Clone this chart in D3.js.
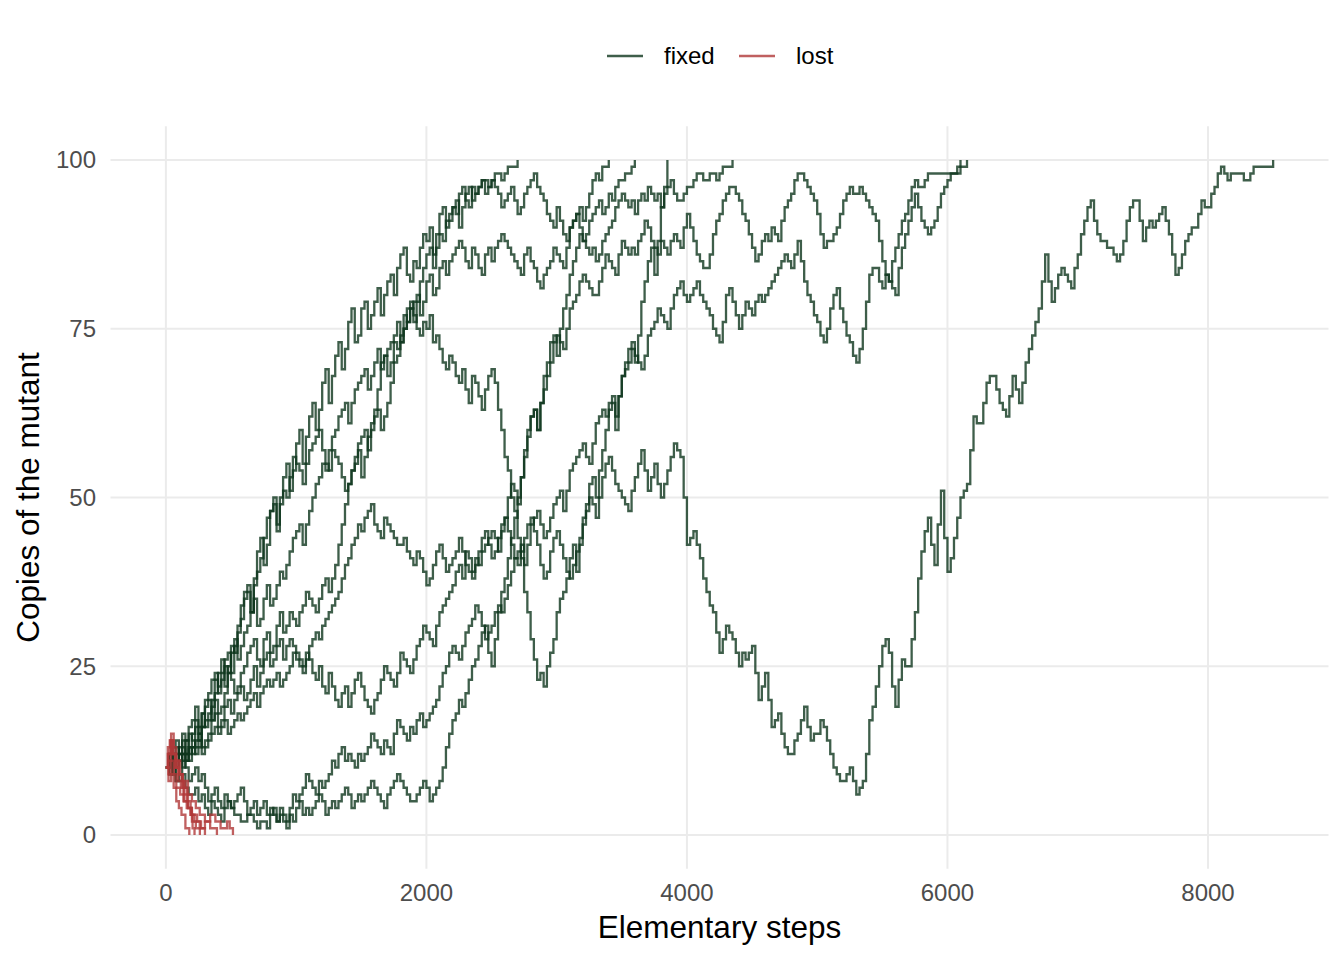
<!DOCTYPE html>
<html><head><meta charset="utf-8">
<script src="https://cdn.jsdelivr.net/npm/d3@7"></script>
<style>body{margin:0;background:#fff} svg{display:block;font-family:"Liberation Sans",Arial,Helvetica,sans-serif}</style>
</head><body><svg id="chart" width="1344" height="960"></svg>
<script>
// ---- data (copies of the mutant, read every 25 elementary steps) ----
const sampleEvery = 25;
const fixed1 = [10,9,13,14,12,10,11,13,15,17,14,16,19,20,17,21,24,26,22,25,28,27,31,34,36,37,33,38,42,44,40,43,48,50,45,49,53,55,51,54,58,60,55,59,62,64,60,63,67,69,64,68,71,73,69,72,76,78,73,74,78,79,75,77,79,81,77,80,82,83,80,84,86,87,83,82,85,84,87,89,88,90,86,89,92,93,90,91,93,92,95,96,94,93,96,95,96,97,97,96,97,98,98,97,98,99,99,99,100];
const fixed2 = [10,12,11,8,9,11,12,15,14,12,13,16,17,18,20,23,22,24,26,27,24,28,30,32,35,36,33,37,39,41,44,47,48,49,46,50,51,50,53,56,55,54,52,55,57,58,59,60,57,55,54,57,56,55,53,51,52,54,56,58,59,60,57,60,62,63,60,62,64,67,70,71,73,75,78,79,76,79,82,84,86,87,84,87,89,88,91,92,93,94,90,93,95,96,94,95,96,97,95,96,97,96,95,93,94,95,96,94,92,93,95,96,97,98,96,95,94,92,91,90,93,91,89,88,90,91,92,93,91,93,95,97,98,97,99,99,100];
const fixed3 = [10,11,9,10,12,15,14,12,13,14,15,18,16,17,19,20,18,19,21,24,23,21,22,24,25,27,28,29,26,25,29,30,27,28,31,33,30,31,33,32,31,33,34,36,35,34,33,35,37,38,36,38,40,43,46,49,52,54,55,57,53,56,59,61,63,66,70,71,68,70,73,72,74,77,76,78,79,80,77,79,82,83,80,81,84,85,83,85,86,87,88,87,85,84,87,86,84,83,86,87,85,87,88,89,88,87,86,85,84,83,86,87,85,84,82,81,83,84,85,87,86,85,84,87,90,91,92,90,88,89,91,92,93,94,92,93,95,94,96,97,97,98,98,99,100];
const fixed4 = [10,9,12,13,11,12,14,16,17,19,16,18,20,21,23,24,21,23,25,24,27,29,26,28,30,31,33,35,31,32,35,37,34,35,37,39,38,40,42,44,45,46,43,46,48,50,52,53,55,54,57,59,60,62,63,64,61,64,66,67,68,69,66,68,70,72,69,71,72,73,74,76,73,75,76,78,77,75,74,76,75,77,73,74,72,70,69,71,70,68,67,69,66,64,68,67,65,63,66,68,69,67,63,60,56,54,50,48,44,41,36,33,29,26,23,24,22,25,27,29,33,35,36,38,41,43,39,43,47,49,52,53,50,54,57,60,63,64,60,65,68,70,72,73,70,74,79,82,85,87,83,88,93,96,100];
const fixed5 = [10,12,11,12,13,14,12,11,13,16,15,13,14,15,17,18,16,17,19,20,18,20,21,22,20,21,23,25,22,24,26,27,25,26,28,29,26,28,29,28,27,26,25,27,26,24,23,25,22,21,24,22,20,19,21,22,19,21,23,24,22,20,19,18,20,21,23,25,24,23,22,24,27,26,25,24,26,28,29,31,30,29,28,31,33,34,35,36,37,39,40,38,42,41,39,41,40,42,43,44,45,44,42,45,47,50,52,51,49,53,57,60,62,63,60,64,68,70,73,74,71,75,78,80,83,85,87,89,88,87,86,87,85,86,88,89,90,91,93,94,95,94,93,94,92,94,95,94,96,95,94,95,93,95,96,97,95,94,94,95,96,96,97,98,98,97,97,98,98,97,98,99,99,99,100];
const fixed6 = [10,11,12,10,11,12,10,8,9,10,8,9,7,5,6,7,5,4,6,5, 4,5,6,7,5,3,4,5,3,4,5,3,4,3,2,4,3,2,4,6, 5,6,7,9,8,7,6,8,7,8,9,11,10,12,13,11,12,11,10,12, 11,12,13,15,14,13,12,14,13,12,15,17,16,15,14,16,15,17,18,16, 17,18,19,20,22,24,25,27,28,27,26,28,30,31,32,34,33,31,29,30, 31,33,34,33,35,37,39,41,42,43,40,43,46,47,48,46,44,45,47,49, 50,51,48,51,54,55,56,57,58,56,55,58,61,62,63,62,64,65,62,65, 68,69,70,72,71,70,69,71,74,75,76,78,77,76,75,78,80,81,82,80, 79,80,81,82,80,79,78,77,75,74,73,76,80,81,79,77,75,77,79,78, 77,79,80,79,80,81,82,83,84,85,86,85,84,86,88,85,82,80,79,77, 76,74,73,75,78,80,81,78,76,74,73,71,70,72,75,79,83,84,84,82, 81,83,82,81,80,84,87,89,91,93,95,93,91,90,89,90,91,93,95,96, 97,98,98,99,100];
const fixed7 = [10,11,9,8,8,9,7,6,6,7,5,6,4,3,5,4,3,2,4,5, 4,3,3,2,2,3,3,2,1,2,2,1,3,4,2,3,2,1,3,2, 4,5,3,4,3,4,5,6,5,3,4,5,4,5,6,7,6,4,5,6, 5,6,7,8,7,6,5,4,6,7,8,9,8,7,6,5,5,6,7,8, 7,5,6,7,8,10,13,15,17,18,20,19,21,23,25,26,28,30,31,27, 25,29,33,36,38,41,44,47,50,53,56,59,62,63,60,64,66,68,70,73, 74,73,72,75,78,79,80,82,83,82,81,80,80,82,84,86,85,84,83,86, 88,87,86,87,86,88,89,91,90,88,87,86,88,87,86,88,89,88,87,90, 92,90,88,86,85,84,84,86,89,91,92,94,95,96,96,95,94,92,91,89, 87,85,86,88,89,88,90,89,88,91,93,94,95,97,98,98,97,96,95,94, 92,89,87,88,88,89,90,92,94,95,96,95,95,96,95,94,93,92,91,88, 85,83,82,85,87,89,91,92,94,96,97,96,96,97,98,98,98,98,98,98, 98,98,98,98,99,99,100];
const fixed8 = [10,12,11,10,12,13,11,13,12,13,14,12,13,14,15,16,15,16,17,15, 16,17,18,17,18,19,20,21,19,21,22,23,22,23,24,22,23,24,25,27, 26,25,24,26,28,29,30,29,31,32,33,34,35,36,38,40,41,43,44,46, 45,47,48,49,46,45,44,47,46,45,44,43,43,44,42,41,40,42,41,39, 37,38,40,42,43,41,39,40,41,42,44,42,40,39,38,40,42,44,45,43, 41,42,44,46,47,45,43,41,40,42,44,46,47,45,43,40,38,39,42,44, 45,43,41,39,38,40,42,44,46,48,50,49,47,50,53,55,56,54,52,51, 50,49,48,51,53,55,57,54,51,53,55,52,50,52,54,56,58,57,56,50, 43,44,45,43,41,38,36,34,33,30,27,29,31,30,29,27,25,27,26,27, 28,24,20,22,24,20,16,17,18,15,13,12,12,14,15,17,19,16,14,15, 15,17,16,14,12,10,9,8,8,9,10,8,6,7,8,12,17,19,22,25, 28,29,27,22,19,23,26,25,25,29,33,38,42,45,47,43,40,46,51,44, 39,41,44,47,50,51,52,57,62,61,61,64,67,68,68,66,64,63,62,65, 68,66,64,67,70,72,74,76,78,82,86,82,79,81,83,84,83,82,81,84, 86,89,91,93,94,91,89,88,88,87,87,86,85,86,88,91,93,94,94,91, 88,90,91,90,91,92,93,91,89,86,83,84,86,88,89,90,90,92,94,93, 93,95,96,98,99,98,97,98,98,98,98,97,97,98,99,99,99,99,99,99, 100];

// lost trajectories: [elementary step, copies]
const lost1 = [[0,10],[20,12],[40,15],[60,13],[80,11],[100,9],[120,8],[140,6],[170,4],[200,2],[230,1],[261,0]];
const lost2 = [[0,10],[15,13],[35,14],[55,12],[75,10],[95,8],[115,7],[135,5],[160,4],[190,3],[220,2],[260,1],[300,2],[340,1],[392,0]];
const lost3 = [[0,10],[15,12],[30,14],[50,12],[70,10],[90,11],[110,9],[130,7],[150,8],[170,6],[200,5],[230,4],[260,3],[300,2],[340,3],[380,2],[420,1],[470,2],[490,1],[515,0]];
const lost4 = [[0,10],[20,8],[40,9],[60,7],[80,5],[100,4],[120,3],[150,1],[180,0]];
const lost5 = [[0,10],[20,11],[40,14],[60,12],[80,10],[100,9],[130,7],[160,5],[190,3],[205,1],[220,0]];
const lost6 = [[0,10],[20,9],[40,11],[60,9],[80,7],[110,6],[140,5],[170,4],[200,3],[240,2],[270,1],[300,0]];

const xTicks = [0, 2000, 4000, 6000, 8000];
const yTicks = [0, 25, 50, 75, 100];
const legendLabels = ["fixed", "lost"];
const xTitle = "Elementary steps";
const yTitle = "Copies of the mutant";

// ---- build ----
const fixedSeries = [fixed1, fixed2, fixed3, fixed4, fixed5, fixed6, fixed7, fixed8]
  .map(vals => vals.map((v, i) => [i * sampleEvery, v]));
const lostSeries = [lost1, lost2, lost3, lost4, lost5, lost6];

const colFixed = "rgb(14,54,29)", colLost = "rgb(176,56,56)", lineAlpha = 0.8;

const all = fixedSeries.concat(lostSeries).flat();
const xMax = d3.max(all, d => d[0]);
const x = d3.scaleLinear().domain([-0.05 * xMax, 1.05 * xMax]).range([110.5, 1328.5]);
const y = d3.scaleLinear().domain([-5, 105]).range([868.75, 126.25]);

const svg = d3.select("#chart");
svg.append("rect").attr("width", 1344).attr("height", 960).attr("fill", "#fff");

const grid = svg.append("g").attr("stroke", "#ebebeb").attr("stroke-width", 2);
grid.selectAll("line.h").data(yTicks).join("line")
  .attr("class", "h")
  .attr("x1", x.range()[0]).attr("x2", x.range()[1])
  .attr("y1", d => y(d)).attr("y2", d => y(d));
grid.selectAll("line.v").data(xTicks).join("line")
  .attr("class", "v")
  .attr("y1", y.range()[0]).attr("y2", y.range()[1])
  .attr("x1", d => x(d)).attr("x2", d => x(d));

const stepLine = d3.line().x(d => x(d[0])).y(d => y(d[1])).curve(d3.curveStepAfter);

svg.append("g").selectAll("path").data(fixedSeries).join("path")
  .attr("d", stepLine).attr("fill", "none")
  .attr("stroke", colFixed).attr("stroke-opacity", lineAlpha)
  .attr("stroke-width", 2.3);

svg.append("g").selectAll("path").data(lostSeries).join("path")
  .attr("d", stepLine).attr("fill", "none")
  .attr("stroke", colLost).attr("stroke-opacity", lineAlpha)
  .attr("stroke-width", 2.3);

// axes labels
svg.append("g").selectAll("text").data(yTicks).join("text")
  .attr("x", 96).attr("y", d => y(d)).attr("dy", "0.35em")
  .attr("text-anchor", "end").attr("font-size", 24).attr("fill", "#4d4d4d")
  .text(d => d);
svg.append("g").selectAll("text").data(xTicks).join("text")
  .attr("x", d => x(d)).attr("y", 901)
  .attr("text-anchor", "middle").attr("font-size", 24).attr("fill", "#4d4d4d")
  .text(d => d);

svg.append("text").attr("x", (x.range()[0] + x.range()[1]) / 2).attr("y", 938)
  .attr("text-anchor", "middle").attr("font-size", 31.5).attr("fill", "#000").text(xTitle);
svg.append("text")
  .attr("transform", `translate(39,${(y.range()[0] + y.range()[1]) / 2}) rotate(-90)`)
  .attr("text-anchor", "middle").attr("font-size", 31.5).attr("fill", "#000").text(yTitle);

// legend
const legendItems = [
  {label: legendLabels[0], color: colFixed, x0: 607},
  {label: legendLabels[1], color: colLost, x0: 739}
];
const lg = svg.append("g");
legendItems.forEach(it => {
  lg.append("line").attr("x1", it.x0).attr("x2", it.x0 + 36).attr("y1", 56).attr("y2", 56)
    .attr("stroke", it.color).attr("stroke-opacity", lineAlpha).attr("stroke-width", 2.3);
  lg.append("text").attr("x", it.x0 + 57).attr("y", 56).attr("dy", "0.35em")
    .attr("font-size", 24).attr("fill", "#000").text(it.label);
});
</script></body></html>
